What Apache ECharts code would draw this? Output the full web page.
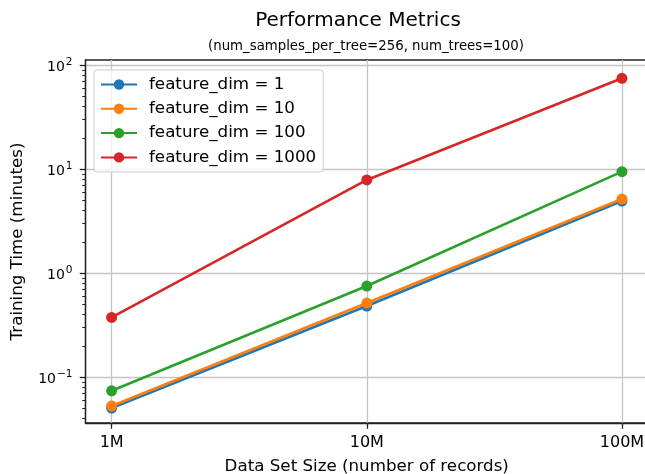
<!DOCTYPE html>
<html>
<head>
<meta charset="utf-8">
<script src="https://cdn.jsdelivr.net/npm/echarts@6/dist/echarts.min.js"></script>
<style>
html,body{margin:0;padding:0;background:#fff;}
#chart{width:645px;height:474px;}
</style>
</head>
<body>
<div id="chart"></div>
<script>
// ---- data ----
const datasetSizes = [1e6, 1e7, 1e8];
const xTickLabels = ['1M', '10M', '100M'];
const seriesNames = ['feature_dim = 1', 'feature_dim = 10', 'feature_dim = 100', 'feature_dim = 1000'];
const timeDim1 = [0.0507, 0.485, 4.96];
const timeDim10 = [0.053, 0.518, 5.18];
const timeDim100 = [0.0743, 0.755, 9.5];
const timeDim1000 = [0.377, 7.9, 75];
const yMajorTicks = [0.1, 1, 10, 100];
const yTickExponents = ['\u22121', '0', '1', '2'];
const yMinorTicks = [0.04, 0.05, 0.06, 0.07, 0.08, 0.09,
  0.2, 0.3, 0.4, 0.5, 0.6, 0.7, 0.8, 0.9,
  2, 3, 4, 5, 6, 7, 8, 9,
  20, 30, 40, 50, 60, 70, 80, 90];
const colors = ['#1f77b4', '#ff7f0e', '#2ca02c', '#d62728'];
const seriesValues = [timeDim1, timeDim10, timeDim100, timeDim1000];

const FONT = 'DejaVu Sans';
const X_MIN = 790000, X_MAX = 126500000;
const Y_MIN = 0.0364, Y_MAX = 112.5;

const chart = echarts.init(document.getElementById('chart'), null, {renderer: 'canvas'});

const series = seriesNames.map((name, i) => ({
  name: name,
  type: 'line',
  xAxisIndex: 0,
  yAxisIndex: 0,
  data: datasetSizes.map((x, j) => [x, seriesValues[i][j]]),
  symbol: 'circle',
  symbolSize: 11,
  showSymbol: true,
  lineStyle: {color: colors[i], width: 2.6},
  itemStyle: {color: colors[i]},
  emphasis: {disabled: true},
  animation: false,
  z: 3 + i
}));

const option = {
  animation: false,
  textStyle: {fontFamily: FONT},
  title: [
    {text: 'Performance Metrics', left: 358, top: 11, textAlign: 'center', padding: 0,
     textStyle: {fontFamily: FONT, fontSize: 20, fontWeight: 'normal', color: '#000'}},
    {text: '(num_samples_per_tree=256, num_trees=100)', left: 366, top: 40, textAlign: 'center', padding: 0,
     textStyle: {fontFamily: FONT, fontSize: 13.3, fontWeight: 'normal', color: '#000'}}
  ],
  grid: {
    left: 85.5, top: 60, right: -3, bottom: 51,
    show: true, borderColor: '#222', borderWidth: 1.3, backgroundColor: 'transparent',
    containLabel: false,
    outerBoundsMode: 'none'
  },
  legend: {
    orient: 'vertical',
    left: 94, top: 70,
    padding: [6, 7, 6, 6],
    itemWidth: 36, itemHeight: 13, itemGap: 7.3,
    backgroundColor: 'rgba(255,255,255,0.8)',
    borderColor: '#cccccc', borderWidth: 1, borderRadius: 3,
    textStyle: {fontFamily: FONT, fontSize: 16.7, color: '#000', lineHeight: 17, padding: [0, 0, 0, 7]},
    data: seriesNames,
    selectedMode: false
  },
  xAxis: [{
    type: 'log', logBase: 10, min: X_MIN, max: X_MAX,
    name: 'Data Set Size (number of records)', nameLocation: 'middle', nameGap: 35,
    nameTextStyle: {fontFamily: FONT, fontSize: 16.7, color: '#000'},
    axisLine: {show: true, lineStyle: {color: '#222', width: 1.3}},
    axisTick: {show: true, length: 5.8, lineStyle: {color: '#222', width: 1.3}, customValues: datasetSizes},
    axisLabel: {
      show: true, margin: 12, fontFamily: FONT, fontSize: 16, color: '#000',
      customValues: datasetSizes,
      formatter: function (v) {
        for (let i = 0; i < datasetSizes.length; i++) {
          if (Math.abs(Math.log10(v) - Math.log10(datasetSizes[i])) < 1e-6) return xTickLabels[i];
        }
        return '';
      }
    },
    splitLine: {show: true, lineStyle: {color: '#c4c4c4', width: 1.3}},
    minorTick: {show: false}, minorSplitLine: {show: false}
  }],
  yAxis: [{
    type: 'log', logBase: 10, min: Y_MIN, max: Y_MAX, position: 'left',
    name: 'Training Time (minutes)', nameLocation: 'middle', nameGap: 59, nameRotate: 90,
    nameTextStyle: {fontFamily: FONT, fontSize: 16.7, color: '#000'},
    axisLine: {show: true, lineStyle: {color: '#222', width: 1.3}},
    axisTick: {show: true, length: 5.8, lineStyle: {color: '#222', width: 1.3}, customValues: yMajorTicks},
    axisLabel: {
      show: true, margin: 13, color: '#000',
      customValues: yMajorTicks,
      formatter: function (v) {
        const e = Math.round(Math.log10(v));
        for (let i = 0; i < yMajorTicks.length; i++) {
          if (Math.round(Math.log10(yMajorTicks[i])) === e) return '{b|10}{s|' + yTickExponents[i] + '}';
        }
        return '';
      },
      rich: {
        b: {fontFamily: FONT, fontSize: 14, lineHeight: 18, color: '#000', padding: [5, 0, 0, 0]},
        s: {fontFamily: FONT, fontSize: 10.5, lineHeight: 10.6, color: '#000', verticalAlign: 'top', padding: [0, 0, 0, 1]}
      }
    },
    splitLine: {show: true, lineStyle: {color: '#c4c4c4', width: 1.3}},
    minorTick: {show: false}, minorSplitLine: {show: false}
  }, {
    type: 'log', logBase: 10, min: Y_MIN, max: Y_MAX, position: 'left', offset: 0,
    axisLine: {show: false},
    axisTick: {show: true, length: 3.3, lineStyle: {color: '#222', width: 1}, customValues: yMinorTicks},
    axisLabel: {show: false},
    splitLine: {show: false}
  }],
  series: series
};

chart.setOption(option);
</script>
</body>
</html>
